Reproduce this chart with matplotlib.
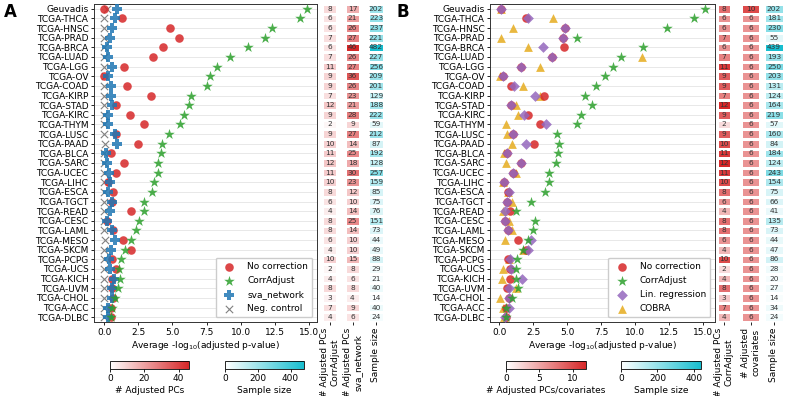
import numpy as np
import matplotlib
matplotlib.use('Agg')
import matplotlib.pyplot as plt
from matplotlib.colors import LinearSegmentedColormap

plt.rcParams['font.family'] = ['DejaVu Sans']
plt.rcParams['font.size'] = 6.5

cats = ['Geuvadis'] + ['TCGA-' + c for c in
        ['THCA', 'HNSC', 'PRAD', 'BRCA', 'LUAD', 'LGG', 'OV', 'COAD', 'KIRP', 'STAD',
         'KIRC', 'THYM', 'LUSC', 'PAAD', 'BLCA', 'SARC', 'UCEC', 'LIHC', 'ESCA', 'TGCT',
         'READ', 'CESC', 'LAML', 'MESO', 'SKCM', 'PCPG', 'UCS', 'KICH', 'UVM', 'CHOL',
         'ACC', 'DLBC']]

# panel A: average -log10(adj p)
a_none = [0.02, 1.33, 4.83, 5.44, 4.30, 3.60, 1.48, 0.02, 1.65, 3.40, 0.87, 1.89, 2.94,
          0.85, 2.48, 0.49, 1.46, 0.85, 0.27, 0.63, 0.58, 1.94, 0.24, 0.63, 1.36, 1.94,
          0.60, 0.85, 0.60, 0.58, 0.63, 0.50, 0.50]
a_corr = [14.83, 14.32, 12.26, 11.77, 10.54, 9.23, 8.25, 7.72, 7.53, 6.34, 6.24, 5.83,
          5.57, 4.78, 4.25, 4.13, 3.96, 3.91, 3.62, 3.47, 2.94, 2.91, 2.57, 2.36, 1.99,
          1.53, 1.26, 1.09, 1.17, 1.00, 0.80, 0.56, 0.50]
a_sva = [0.97, 0.80, 0.58, 0.44, 0.24, 0.31, 0.60, 0.31, 0.49, 0.49, 0.60, 0.27, 0.27,
         0.80, 0.92, 0.15, 0.19, 0.36, 0.44, 0.31, 0.58, 0.44, 0.24, 0.58, 0.80, 0.49,
         0.36, 0.44, 0.70, 0.60, 0.60, 0.31, 0.30]
a_neg = [0.20, 0.02, 0.01, 0.02, 0.01, 0.02, 0.02, 0.05, 0.01, 0.02, 0.02, 0.01, 0.02,
         0.02, 0.03, 0.01, 0.02, 0.01, 0.02, 0.02, 0.01, 0.02, 0.01, 0.02, 0.03, 0.02,
         0.01, 0.02, 0.02, 0.01, 0.02, 0.01, 0.0]

a_pcs_corr = [8, 6, 6, 7, 6, 7, 11, 9, 9, 7, 12, 9, 2, 9, 10, 11, 12, 11, 10, 8, 6, 4, 8,
              8, 6, 4, 10, 2, 4, 8, 3, 7, 4]
a_pcs_sva = [17, 21, 26, 27, 46, 26, 27, 36, 26, 23, 21, 28, 9, 27, 14, 25, 18, 30, 23,
             12, 10, 14, 25, 14, 10, 10, 15, 8, 6, 8, 4, 9, 6]
a_size = [202, 223, 237, 221, 482, 227, 256, 209, 201, 129, 188, 222, 59, 212, 87, 192,
          128, 257, 159, 85, 75, 76, 151, 73, 44, 49, 88, 29, 21, 40, 14, 40, 24]

# panel B
b_none = [0.10, 1.97, 4.85, 4.70, 4.78, 3.87, 1.63, 0.25, 0.84, 3.30, 0.86, 2.09, 3.03,
          1.03, 2.54, 0.57, 1.63, 0.99, 0.37, 0.65, 0.57, 0.81, 0.44, 0.64, 1.40, 2.00,
          0.64, 0.79, 0.79, 0.57, 0.69, 0.50, 0.50]
b_corr = [15.15, 14.36, 12.34, 5.74, 10.62, 8.94, 8.35, 7.76, 7.10, 6.31, 6.85, 6.01,
          5.74, 4.26, 4.43, 4.36, 4.19, 3.65, 3.65, 3.40, 2.32, 1.26, 2.61, 2.51, 2.09,
          1.72, 1.33, 1.26, 1.20, 1.35, 0.94, 0.52, 0.52]
b_lin = [0.15, 2.12, 4.85, 4.70, 3.23, 3.87, 1.63, 0.25, 1.06, 2.66, 0.86, 1.80, 3.47,
         1.03, 2.00, 0.57, 1.63, 0.99, 0.37, 0.71, 0.57, 0.44, 0.44, 0.64, 2.34, 2.14,
         0.81, 0.86, 1.65, 0.71, 0.69, 0.74, 0.44]
b_cobra = [0.15, 3.97, 1.03, 0.10, 2.14, 10.54, 3.03, 0.07, 1.72, 3.03, 1.20, 1.38, 0.47,
           0.54, 0.91, 0.32, 0.47, 1.26, 0.25, 0.62, 0.94, 0.25, 0.74, 0.94, 0.42, 1.75,
           0.70, 0.25, 0.17, 1.26, 0.07, 0.30, 0.32]

b_pcs_corr = [8, 6, 6, 7, 6, 7, 11, 9, 9, 7, 12, 9, 2, 9, 10, 11, 12, 11, 10, 8, 6, 4, 8,
              8, 6, 4, 10, 2, 4, 8, 3, 7, 4]
b_covars = [10] + [6] * 32
b_size = [202, 181, 230, 55, 439, 193, 250, 203, 131, 124, 164, 219, 57, 160, 84, 184,
          124, 243, 154, 75, 66, 41, 135, 73, 44, 47, 86, 28, 20, 27, 14, 34, 24]

reds = LinearSegmentedColormap.from_list('reds', ['white', '#d62728'])
cyans = LinearSegmentedColormap.from_list('cyans', ['white', '#17becf'])

W, H = 785, 396
fig = plt.figure(figsize=(W / 100, H / 100), dpi=100)


def box(x0, x1, y0, y1):
    return [x0 / W, 1 - y1 / H, (x1 - x0) / W, (y1 - y0) / H]


y = np.arange(len(cats))


def dot_panel(ax, series):
    for vals, lab, mk, col, s, z in series:
        kw = dict(marker=mk, s=s, label=lab, zorder=z, linewidths=0)
        if mk == 'x':
            kw.update(linewidths=0.8)
            ax.scatter(vals, y, color=col, **kw)
        else:
            ax.scatter(vals, y, color=col, alpha=0.85, **kw)
    ax.set_ylim(len(cats) - 0.5, -0.5)
    ax.set_yticks(y)
    ax.set_yticklabels(cats)
    ax.set_xticks([0, 2.5, 5, 7.5, 10, 12.5, 15])
    ax.set_xticklabels(['0.0', '2.5', '5.0', '7.5', '10.0', '12.5', '15.0'])
    ax.grid(axis='y', color='#e4e4e4', lw=0.6, zorder=0)
    ax.set_axisbelow(True)
    ax.tick_params(length=2.5, width=0.6, pad=1.5)
    for sp in ax.spines.values():
        sp.set_linewidth(0.7)
        sp.set_color('#333333')
    ax.set_xlabel('Average -log$_{10}$(adjusted p-value)', labelpad=2)


def heat_col(ax, vals, cmap, vmax, label):
    arr = np.array(vals, dtype=float).reshape(-1, 1)
    ax.pcolormesh(arr, cmap=cmap, vmin=0, vmax=vmax, edgecolors='white', linewidth=0.8)
    ax.set_ylim(len(vals), 0)
    ax.set_xlim(0, 1)
    for i, v in enumerate(vals):
        ax.text(0.5, i + 0.5, str(v), ha='center', va='center', fontsize=5.3, color='#333333')
    ax.set_yticks([])
    ax.set_xticks([0.5])
    ax.set_xticklabels([label], rotation=90, ha='center', va='top', multialignment='center')
    ax.tick_params(axis='x', length=2.5, width=0.6, pad=1.5)
    for sp in ax.spines.values():
        sp.set_visible(False)


def cbar(rect, cmap, vmax, ticks, label):
    cax = fig.add_axes(rect)
    sm = plt.cm.ScalarMappable(cmap=cmap, norm=plt.Normalize(0, vmax))
    cb = fig.colorbar(sm, cax=cax, orientation='horizontal', ticks=ticks)
    cb.set_label(label, labelpad=2)
    cb.outline.set_linewidth(0.6)
    cax.tick_params(length=2, width=0.6, pad=1.5)


def add_legend(ax):
    h, l = ax.get_legend_handles_labels()
    order = [1, 3, 2, 0]
    ax.legend([h[i] for i in order], [l[i] for i in order], loc='lower right',
              fontsize=6.5, borderpad=0.5, labelspacing=0.55, handletextpad=1.0,
              framealpha=1, edgecolor='#cccccc', markerscale=1.0)


# ----- panel A -----
axA = fig.add_axes(box(94, 317, 4, 322))
dot_panel(axA, [
    (a_neg, 'Neg. control', 'x', 'grey', 28, 2),
    (a_none, 'No correction', 'o', '#d62728', 38, 3),
    (a_sva, 'sva_network', 'P', '#1f77b4', 44, 4),
    (a_corr, 'CorrAdjust', '*', '#2ca02c', 64, 5),
])
add_legend(axA)

heat_col(fig.add_axes(box(322, 337, 4, 322)), a_pcs_corr, reds, 46, '# Adjusted PCs\nCorrAdjust')
heat_col(fig.add_axes(box(345, 360, 4, 322)), a_pcs_sva, reds, 46, '# Adjusted PCs\nsva_network')
heat_col(fig.add_axes(box(368, 384, 4, 322)), a_size, cyans, 482, 'Sample size')

cbar(box(110, 189, 361, 369), reds, 46, [0, 20, 40], '# Adjusted PCs')
cbar(box(225, 304, 361, 369), cyans, 482, [0, 200, 400], 'Sample size')

# ----- panel B -----
axB = fig.add_axes(box(490, 715, 4, 322))
dot_panel(axB, [
    (b_cobra, 'COBRA', '^', '#e6ac1e', 40, 2),
    (b_none, 'No correction', 'o', '#d62728', 38, 3),
    (b_lin, 'Lin. regression', 'D', '#9467bd', 30, 4),
    (b_corr, 'CorrAdjust', '*', '#2ca02c', 64, 5),
])
add_legend(axB)

heat_col(fig.add_axes(box(717, 731, 4, 322)), b_pcs_corr, reds, 12, '# Adjusted PCs\nCorrAdjust')
heat_col(fig.add_axes(box(741, 760, 4, 322)), b_covars, reds, 12, '# Adjusted\ncovariates')
heat_col(fig.add_axes(box(764, 784, 4, 322)), b_size, cyans, 439, 'Sample size')

cbar(box(506, 586, 361, 369), reds, 12, [0, 5, 10], '# Adjusted PCs/covariates')
cbar(box(621, 701, 361, 369), cyans, 439, [0, 200, 400], 'Sample size')

fig.text(4 / W, 1 - 3 / H, 'A', fontsize=12, fontweight='bold', va='top')
fig.text(397 / W, 1 - 3 / H, 'B', fontsize=12, fontweight='bold', va='top')

fig.savefig('out.png', dpi=100)
